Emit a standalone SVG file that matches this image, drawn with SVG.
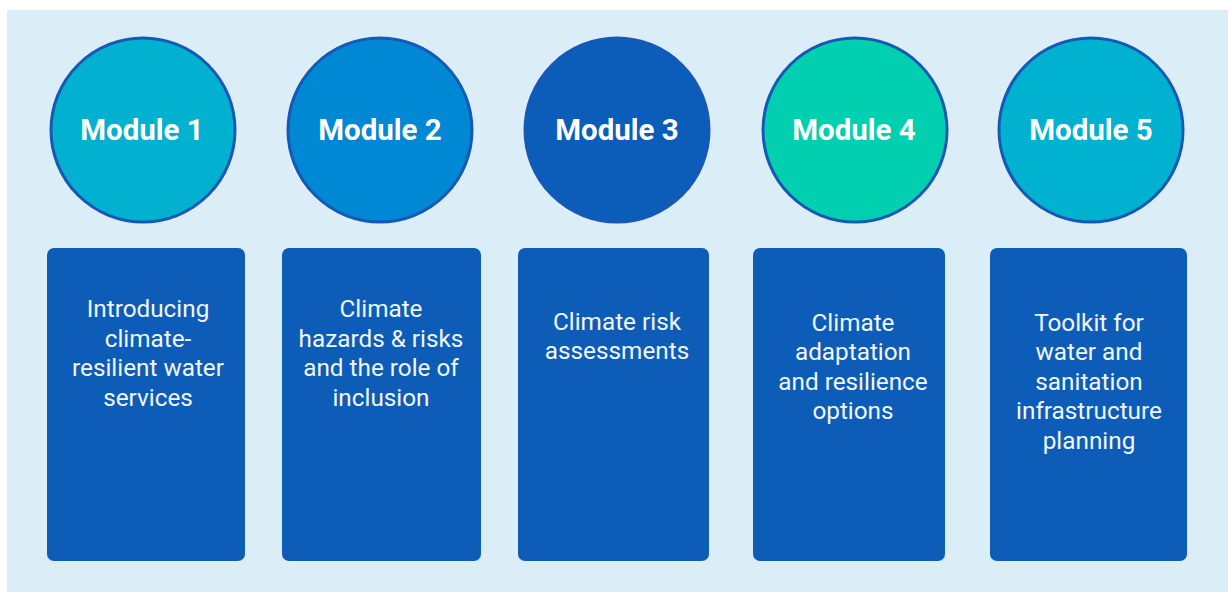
<svg xmlns="http://www.w3.org/2000/svg" width="1228" height="592" viewBox="0 0 1228 592">
  <style>
    .disc { stroke: #1658b5; stroke-width: 3; }
    .card { fill: #0d5cb8; }
    .title { font-family: Roboto, "Liberation Sans", sans-serif; font-weight: bold; font-size: 29.5px; fill: #ffffff; text-anchor: middle; }
    .body { font-family: Roboto, "Liberation Sans", sans-serif; font-size: 24.3px; fill: #f2f6fb; text-anchor: middle; }
  </style>
  <rect x="0" y="0" width="1228" height="592" fill="#ffffff"/>
  <rect x="7" y="10" width="1221" height="582" fill="#dbeef8"/>

  <g id="module-1">
    <circle class="disc" cx="143" cy="130" r="92" fill="#02b0cf"/>
    <text class="title" x="142" y="140">Module 1</text>
    <rect class="card" x="47" y="248" width="198" height="313" rx="7"/>
    <text class="body" x="148" y="317">Introducing</text>
    <text class="body" x="148" y="347">climate-</text>
    <text class="body" x="148" y="376">resilient water</text>
    <text class="body" x="148" y="406">services</text>
  </g>

  <g id="module-2">
    <circle class="disc" cx="380" cy="130" r="92" fill="#0188d4"/>
    <text class="title" x="380" y="140">Module 2</text>
    <rect class="card" x="282" y="248" width="199" height="313" rx="7"/>
    <text class="body" x="381" y="317">Climate</text>
    <text class="body" x="381" y="347">hazards &amp; risks</text>
    <text class="body" x="381" y="376">and the role of</text>
    <text class="body" x="381" y="406">inclusion</text>
  </g>

  <g id="module-3">
    <circle class="disc" cx="617" cy="130" r="92" fill="#0c5cb9"/>
    <text class="title" x="617" y="140">Module 3</text>
    <rect class="card" x="518" y="248" width="191" height="313" rx="7"/>
    <text class="body" x="617" y="330">Climate risk</text>
    <text class="body" x="617" y="359">assessments</text>
  </g>

  <g id="module-4">
    <circle class="disc" cx="855" cy="130" r="92" fill="#00d0b0"/>
    <text class="title" x="854" y="140">Module 4</text>
    <rect class="card" x="753" y="248" width="192" height="313" rx="7"/>
    <text class="body" x="853" y="331">Climate</text>
    <text class="body" x="853" y="360">adaptation</text>
    <text class="body" x="853" y="390">and resilience</text>
    <text class="body" x="853" y="419">options</text>
  </g>

  <g id="module-5">
    <circle class="disc" cx="1091" cy="130" r="92" fill="#01b1d0"/>
    <text class="title" x="1091" y="140">Module 5</text>
    <rect class="card" x="990" y="248" width="197" height="313" rx="7"/>
    <text class="body" x="1089" y="331">Toolkit for</text>
    <text class="body" x="1089" y="360">water and</text>
    <text class="body" x="1089" y="390">sanitation</text>
    <text class="body" x="1089" y="419">infrastructure</text>
    <text class="body" x="1089" y="449">planning</text>
  </g>

  <g id="connectors"/>
</svg>
